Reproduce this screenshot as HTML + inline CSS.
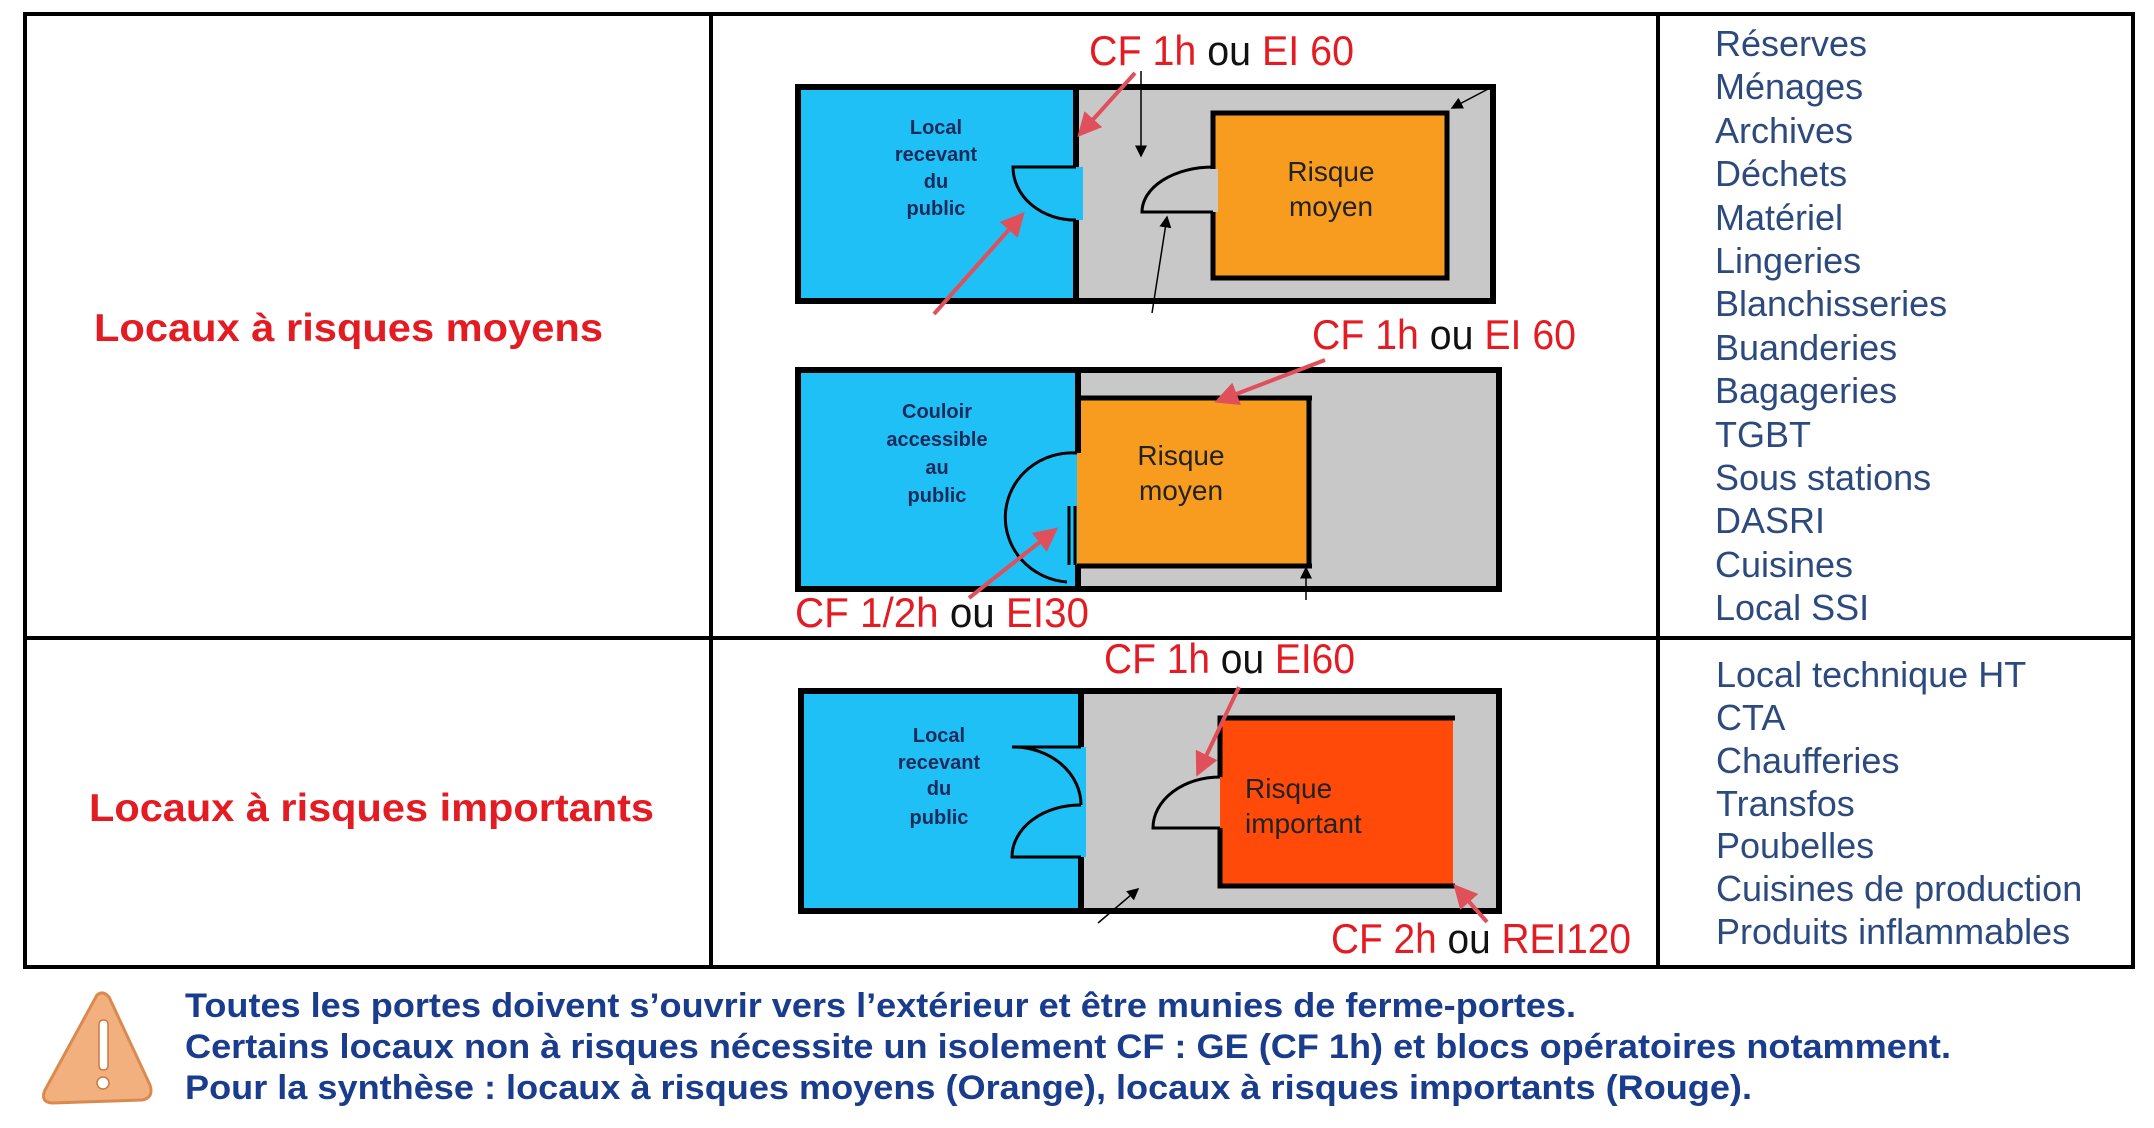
<!DOCTYPE html>
<html><head><meta charset="utf-8"><style>
html,body{margin:0;padding:0;background:#fff;}
svg{display:block;}
</style></head><body>
<svg width="2154" height="1128" viewBox="0 0 2154 1128" xmlns="http://www.w3.org/2000/svg">
<defs>
<marker id="ra" markerWidth="6" markerHeight="6" refX="5" refY="3" orient="auto" markerUnits="strokeWidth"><path d="M0,0 L6,3 L0,6 z" fill="#e0505a"/></marker>
<marker id="ba" markerWidth="8" markerHeight="8" refX="7" refY="4" orient="auto" markerUnits="strokeWidth"><path d="M0,0 L8,4 L0,8 z" fill="#000"/></marker>
</defs>
<rect width="2154" height="1128" fill="#fff"/>
<!-- table -->
<g stroke="#000" stroke-width="4" fill="none">
<rect x="25" y="14" width="2108" height="953"/>
<line x1="711" y1="14" x2="711" y2="967"/>
<line x1="1658" y1="14" x2="1658" y2="967"/>
<line x1="25" y1="638" x2="2133" y2="638"/>
</g>
<g font-family="Liberation Sans, Arial, sans-serif" font-weight="bold" fill="#e31b23" font-size="39">
<text x="94" y="341" textLength="509" lengthAdjust="spacingAndGlyphs">Locaux à risques moyens</text>
<text x="89" y="821" textLength="565" lengthAdjust="spacingAndGlyphs">Locaux à risques importants</text>
</g>
<!-- right list -->
<g font-family="Liberation Sans, Arial, sans-serif" fill="#2c4a7e" font-size="36">
<text x="1715" y="56">Réserves</text>
<text x="1715" y="99">Ménages</text>
<text x="1715" y="143">Archives</text>
<text x="1715" y="186">Déchets</text>
<text x="1715" y="230">Matériel</text>
<text x="1715" y="273">Lingeries</text>
<text x="1715" y="316">Blanchisseries</text>
<text x="1715" y="360">Buanderies</text>
<text x="1715" y="403">Bagageries</text>
<text x="1715" y="447">TGBT</text>
<text x="1715" y="490">Sous stations</text>
<text x="1715" y="533">DASRI</text>
<text x="1715" y="577">Cuisines</text>
<text x="1715" y="620">Local SSI</text>
<text x="1716" y="687">Local technique HT</text>
<text x="1716" y="730">CTA</text>
<text x="1716" y="773">Chaufferies</text>
<text x="1716" y="816">Transfos</text>
<text x="1716" y="858">Poubelles</text>
<text x="1716" y="901">Cuisines de production</text>
<text x="1716" y="944">Produits inflammables</text>
</g>

<!-- Diagram 1 -->
<rect x="795" y="84" width="701" height="220" fill="#c8c8c8"/>
<rect x="795" y="84" width="280" height="220" fill="#1ec0f5"/>
<rect x="1075" y="167" width="8" height="53" fill="#1ec0f5"/>
<g stroke="#000" stroke-width="6" fill="none">
<rect x="798" y="87" width="695" height="214"/>
<line x1="1076" y1="84" x2="1076" y2="167"/>
<line x1="1076" y1="220" x2="1076" y2="304"/>
</g>
<rect x="1213" y="113" width="234" height="165" fill="#f79c1e" stroke="#000" stroke-width="5"/>
<rect x="1208" y="169" width="10" height="43" fill="#c8c8c8"/>
<g stroke="#000" stroke-width="3" fill="none">
<path d="M1076,167 L1013,167 A62,53 0 0 0 1076,220"/>
<path d="M1213,212 L1142,212 A71,45 0 0 1 1213,167"/>
</g>
<g stroke="#000" stroke-width="1.5">
<line x1="1141" y1="71" x2="1141" y2="156" marker-end="url(#ba)"/>
<line x1="1152" y1="313" x2="1167" y2="217" marker-end="url(#ba)"/>
<line x1="1490" y1="88" x2="1452" y2="108" marker-end="url(#ba)"/>
</g>
<g font-family="Liberation Sans, Arial, sans-serif" font-weight="bold" fill="#1a2a5a" font-size="20" text-anchor="middle">
<text x="936" y="134">Local</text><text x="936" y="161">recevant</text><text x="936" y="188">du</text><text x="936" y="215">public</text>
</g>
<g font-family="Liberation Sans, Arial, sans-serif" fill="#222" font-size="28" text-anchor="middle">
<text x="1331" y="181">Risque</text><text x="1331" y="216">moyen</text>
</g>

<!-- Diagram 2 -->
<rect x="795" y="367" width="707" height="225" fill="#c8c8c8"/>
<rect x="795" y="367" width="282" height="225" fill="#1ec0f5"/>
<rect x="1077" y="398" width="232" height="167" fill="#f79c1e"/>
<g stroke="#000" stroke-width="6" fill="none">
<rect x="798" y="370" width="701" height="219"/>
<line x1="1078" y1="367" x2="1078" y2="453"/>
<line x1="1078" y1="565" x2="1078" y2="592"/>
</g>
<rect x="1072" y="455" width="5" height="110" fill="#1ec0f5"/>
<g stroke="#000" stroke-width="5" fill="none">
<line x1="1077" y1="398" x2="1312" y2="398"/>
<line x1="1309" y1="398" x2="1309" y2="567"/>
<line x1="1077" y1="566" x2="1312" y2="566"/>
</g>
<g stroke="#000" stroke-width="3" fill="none">
<path d="M1077,453 A66,64 0 0 0 1067,582"/>
<line x1="1069" y1="506" x2="1069" y2="565"/>
<line x1="1075" y1="506" x2="1075" y2="565"/>
</g>
<line x1="1306" y1="600" x2="1306" y2="568" stroke="#000" stroke-width="1.5" marker-end="url(#ba)"/>
<g font-family="Liberation Sans, Arial, sans-serif" font-weight="bold" fill="#1a2a5a" font-size="20" text-anchor="middle">
<text x="937" y="418">Couloir</text><text x="937" y="446">accessible</text><text x="937" y="474">au</text><text x="937" y="502">public</text>
</g>
<g font-family="Liberation Sans, Arial, sans-serif" fill="#222" font-size="28" text-anchor="middle">
<text x="1181" y="465">Risque</text><text x="1181" y="500">moyen</text>
</g>

<!-- Diagram 3 -->
<rect x="798" y="688" width="704" height="226" fill="#c8c8c8"/>
<rect x="798" y="688" width="282" height="226" fill="#1ec0f5"/>
<rect x="1080" y="747" width="6" height="110" fill="#1ec0f5"/>
<g stroke="#000" stroke-width="6" fill="none">
<rect x="801" y="691" width="698" height="220"/>
<line x1="1081" y1="688" x2="1081" y2="747"/>
<line x1="1081" y1="857" x2="1081" y2="914"/>
</g>
<rect x="1220" y="718" width="233" height="168" fill="#ff4a0a"/>
<g stroke="#000" stroke-width="5" fill="none">
<path d="M1220,777 L1220,718 L1455,718"/>
<path d="M1220,828 L1220,886 L1455,886"/>
</g>
<g stroke="#000" stroke-width="3" fill="none">
<path d="M1081,747 L1012,747 A68,58 0 0 1 1081,805"/>
<path d="M1081,857 L1012,857 A68,52 0 0 1 1081,805"/>
<path d="M1220,828 L1153,828 A67,51 0 0 1 1220,777"/>
</g>
<line x1="1098" y1="923" x2="1138" y2="889" stroke="#000" stroke-width="1.5" marker-end="url(#ba)"/>
<g font-family="Liberation Sans, Arial, sans-serif" font-weight="bold" fill="#1a2a5a" font-size="20" text-anchor="middle">
<text x="939" y="742">Local</text><text x="939" y="769">recevant</text><text x="939" y="795">du</text><text x="939" y="824">public</text>
</g>
<g font-family="Liberation Sans, Arial, sans-serif" fill="#222" font-size="28">
<text x="1245" y="798">Risque</text><text x="1245" y="833">important</text>
</g>

<!-- red arrows -->
<g stroke="#e0505a" stroke-width="4" fill="none" marker-end="url(#ra)">
<line x1="1135" y1="73" x2="1080" y2="134"/>
<line x1="934" y1="314" x2="1022" y2="215"/>
<line x1="1325" y1="360" x2="1218" y2="401"/>
<line x1="969" y1="598" x2="1055" y2="530"/>
<line x1="1239" y1="687" x2="1198" y2="773"/>
<line x1="1487" y1="922" x2="1456" y2="887"/>
</g>

<!-- red labels -->
<g font-family="Liberation Sans, Arial, sans-serif" font-size="42" fill="#e31b23">
<text x="1089" y="65" textLength="265" lengthAdjust="spacingAndGlyphs">CF 1h <tspan fill="#111">ou</tspan> EI 60</text>
<text x="1312" y="349" textLength="264" lengthAdjust="spacingAndGlyphs">CF 1h <tspan fill="#111">ou</tspan> EI 60</text>
<text x="795" y="627" textLength="294" lengthAdjust="spacingAndGlyphs">CF 1/2h <tspan fill="#111">ou</tspan> EI30</text>
<text x="1104" y="673" textLength="251" lengthAdjust="spacingAndGlyphs">CF 1h <tspan fill="#111">ou</tspan> EI60</text>
<text x="1331" y="953" textLength="300" lengthAdjust="spacingAndGlyphs">CF 2h <tspan fill="#111">ou</tspan> REI120</text>
</g>

<!-- footer -->
<g>
<path d="M97,995 Q103,990 109,997 L150,1085 Q154,1098 142,1100 L52,1103 Q40,1102 45,1090 Z" fill="#f2b07e" stroke="#d98a4e" stroke-width="3"/>
<rect x="99" y="1020" width="9" height="50" rx="4" fill="#fff" stroke="#c97a40" stroke-width="1.5"/>
<circle cx="103" cy="1083" r="6" fill="#fff" stroke="#c97a40" stroke-width="1.5"/>
</g>
<g font-family="Liberation Sans, Arial, sans-serif" font-weight="bold" fill="#1a3c8c" font-size="34">
<text x="185" y="1017" textLength="1391" lengthAdjust="spacingAndGlyphs">Toutes les portes doivent s’ouvrir vers l’extérieur et être munies de ferme-portes.</text>
<text x="185" y="1058" textLength="1766" lengthAdjust="spacingAndGlyphs">Certains locaux non à risques nécessite un isolement CF : GE (CF 1h) et blocs opératoires notamment.</text>
<text x="185" y="1099" textLength="1567" lengthAdjust="spacingAndGlyphs">Pour la synthèse : locaux à risques moyens (Orange), locaux à risques importants (Rouge).</text>
</g>
</svg>
</body></html>
